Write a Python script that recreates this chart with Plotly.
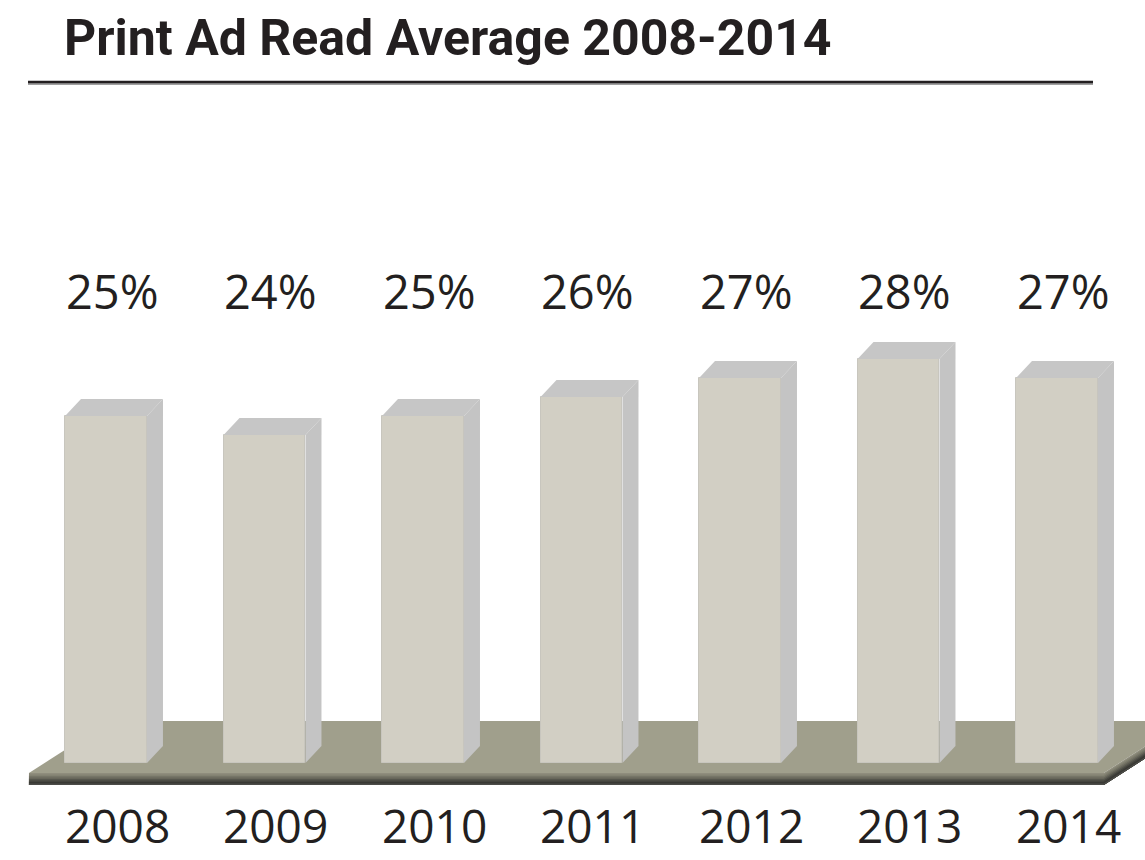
import plotly.graph_objects as go

# ---- data ----
years = ["2008", "2009", "2010", "2011", "2012", "2013", "2014"]
values = [25, 24, 25, 26, 27, 28, 27]
labels = ["25%", "24%", "25%", "26%", "27%", "28%", "27%"]
title_text = "Print Ad Read Average 2008-2014"

# ---- geometry / style ----
W, H = 1145, 860
PX_PER_CAT = 158.5
PX_PER_PCT = 19.0
X0_PX = 106.0          # pixel of first category centre
BASE = 6.74            # value at the floor line
BASE_PX = 763.0

xmin = -X0_PX / PX_PER_CAT
xmax = xmin + W / PX_PER_CAT
ytop = BASE + BASE_PX / PX_PER_PCT
ybot = BASE - (H - BASE_PX) / PX_PER_PCT

def dx_px(p):
    return p / PX_PER_CAT

def dy_px(p):
    return p / PX_PER_PCT

BAR_W = 0.517
DX = dx_px(16)
DY = dy_px(17)

FRONT = "#d2cfc4"
SIDE = "#c4c4c4"
TOP = "#c6c6c6"
FLOOR = "#a09f8c"
TXT = "#231f20"

xs = list(range(len(years)))
fig = go.Figure()

# ---- floor (decoration, on bottom axes) ----
fl_left = -0.486
fl_right = len(years) - 1 + 0.295
fl_front = BASE - dy_px(10)
fl_back = BASE + dy_px(42)
fl_dx = dx_px(81)
fig.add_trace(go.Scatter(
    x=[fl_left, fl_right, fl_right + fl_dx, fl_left + fl_dx, fl_left],
    y=[fl_front, fl_front, fl_back, fl_back, fl_front],
    fill="toself", fillcolor=FLOOR, mode="lines", line=dict(width=0),
    hoverinfo="skip", showlegend=False, xaxis="x", yaxis="y"))

# floor front edge: overlapping strips give a dark gradient
band_cols = ["#8f8d7d", "#838272", "#767567", "#67665a", "#56564d", "#45453f", "#393934", "#4c4c48"]
n = len(band_cols)
band_h = 12.0
ddx = fl_dx
ddy = fl_back - fl_front
for k, c in enumerate(band_cols):
    t = fl_front - dy_px(band_h * k / n)
    b = fl_front - dy_px(band_h)
    fig.add_trace(go.Scatter(
        x=[fl_left, fl_right, fl_right + ddx, fl_right + ddx, fl_right, fl_left, fl_left],
        y=[t, t, t + ddy, b + ddy, b, b, t],
        fill="toself", fillcolor=c, mode="lines", line=dict(width=0),
        hoverinfo="skip", showlegend=False, xaxis="x", yaxis="y"))

# ---- bars (overlay axes, drawn above the floor) ----
fig.add_trace(go.Bar(
    x=xs, y=[v - BASE for v in values], base=BASE, width=BAR_W,
    marker=dict(color=FRONT, line=dict(color="#c8c6be", width=1)),
    hovertext=labels, hoverinfo="text", showlegend=False,
    xaxis="x2", yaxis="y2"))

for x, v in zip(xs, values):
    xl, xr = x - BAR_W / 2, x + BAR_W / 2
    fig.add_trace(go.Scatter(
        x=[xr, xr + DX, xr + DX, xr, xr],
        y=[BASE, BASE + DY, v + DY, v, BASE],
        fill="toself", fillcolor=SIDE, mode="lines", line=dict(width=0),
        hoverinfo="skip", showlegend=False, xaxis="x2", yaxis="y2"))
    fig.add_trace(go.Scatter(
        x=[xl, xl + DX, xr + DX, xr, xl],
        y=[v, v + DY, v + DY, v, v],
        fill="toself", fillcolor=TOP, mode="lines", line=dict(width=0),
        hoverinfo="skip", showlegend=False, xaxis="x2", yaxis="y2"))

annotations = []
for x, lab in zip(xs, labels):
    annotations.append(dict(x=x + dx_px(6), y=1 - 291 / H, xref="x", yref="paper",
                            text=lab, showarrow=False, xanchor="center", yanchor="middle",
                            font=dict(family="Open Sans", size=47, color=TXT)))
for x, yr in zip(xs, years):
    annotations.append(dict(x=x + dx_px(11), y=0.002, xref="x", yref="paper",
                            text=yr, showarrow=False, xanchor="center", yanchor="bottom",
                            font=dict(family="Open Sans", size=46, color=TXT)))
annotations.append(dict(x=62 / W, y=1 - 38 / H, xref="paper", yref="paper",
                        text="<b>" + title_text + "</b>", showarrow=False,
                        xanchor="left", yanchor="middle",
                        font=dict(family="Roboto", size=50, color=TXT)))

shapes = [
    dict(type="line", xref="paper", yref="paper", x0=28 / W, x1=1093 / W,
         y0=1 - 84 / H, y1=1 - 84 / H, line=dict(color="#a0a0a0", width=2)),
    dict(type="line", xref="paper", yref="paper", x0=28 / W, x1=1093 / W,
         y0=1 - 82 / H, y1=1 - 82 / H, line=dict(color=TXT, width=2.5)),
]

ax = dict(visible=False, fixedrange=True)
fig.update_layout(
    width=W, height=H, margin=dict(l=0, r=0, t=0, b=0, pad=0),
    paper_bgcolor="white", plot_bgcolor="white",
    xaxis=dict(range=[xmin, xmax], **ax),
    yaxis=dict(range=[ybot, ytop], **ax),
    xaxis2=dict(range=[xmin, xmax], overlaying="x", **ax),
    yaxis2=dict(range=[ybot, ytop], overlaying="y", **ax),
    annotations=annotations, shapes=shapes, bargap=0,
)

fig.write_html("out.html")
